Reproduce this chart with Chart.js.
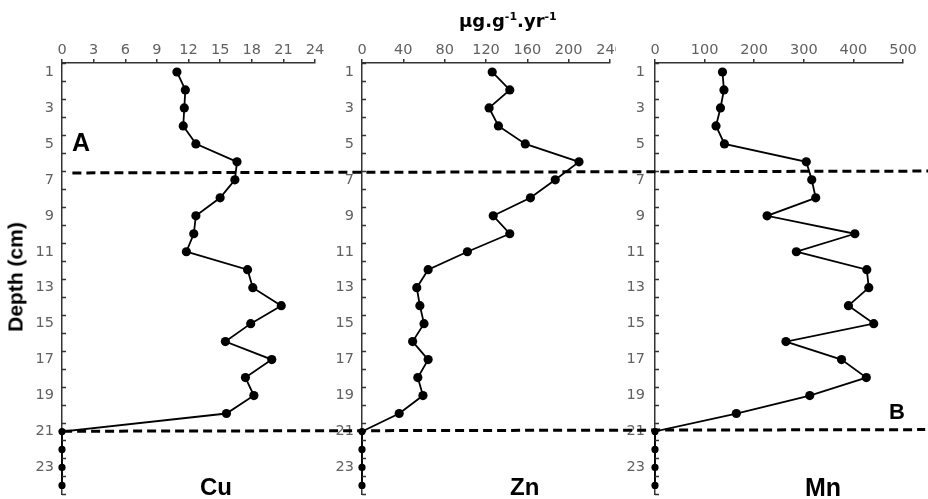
<!DOCTYPE html>
<html>
<head>
<meta charset="utf-8">
<script src="https://cdn.jsdelivr.net/npm/chart.js@4.4.1/dist/chart.umd.min.js"></script>
<style>
  body { margin: 0; background: #fff; width: 928px; height: 499px; overflow: hidden; position: relative;
         font-family: "Liberation Sans", Arial, sans-serif; }
  .panel { position: absolute; top: 0; height: 499px; background: #fff; }
  .txt { position: absolute; font-weight: bold; color: #000; line-height: 1; white-space: nowrap; }
  .txt sup { font-size: 11px; line-height: 0; vertical-align: 7px; }
  #overlay { position: absolute; left: 0; top: 0; pointer-events: none; }
</style>
</head>
<body>
<canvas id="cuChart" class="panel" style="left:0px" width="325" height="499"></canvas>
<canvas id="znChart" class="panel" style="left:325px" width="291" height="499"></canvas>
<canvas id="mnChart" class="panel" style="left:616px" width="312" height="499"></canvas>
<canvas id="overlay" width="928" height="499"></canvas>

<div class="txt" style="left:459px; top:12px; font-size:18px; font-family:'DejaVu Sans'">µg.g<sup>-1</sup>.yr<sup>-1</sup></div>
<div class="txt" style="left:15px; top:277px; font-size:21px; transform: translate(-50%,-50%) rotate(-90deg)">Depth (cm)</div>
<div class="txt" style="left:72px; top:130px; font-size:25px">A</div>
<div class="txt" style="left:889px; top:401px; font-size:22px">B</div>
<div class="txt" style="left:200px; top:475px; font-size:24px">Cu</div>
<div class="txt" style="left:510px; top:475px; font-size:24px">Zn</div>
<div class="txt" style="left:805px; top:475px; font-size:25px">Mn</div>

<script>
'use strict';

// ── Data ───────────────────────────────────────────────────
const depths = [1, 2, 3, 4, 5, 6, 7, 8, 9, 10, 11, 12, 13, 14, 15, 16, 17, 18, 19, 20, 21, 22, 23, 24];

const cuValues = [10.9, 11.7, 11.6, 11.5, 12.7, 16.6, 16.4, 15.0, 12.7, 12.5, 11.8, 17.6,
                  18.1, 20.8, 17.9, 15.5, 19.9, 17.4, 18.2, 15.6, 0, 0, 0, 0];
const znValues = [126, 143, 123, 132, 158, 210, 187, 163, 127, 143, 102, 64,
                  53, 56, 60, 49, 64, 54, 59, 36, 0, 0, 0, 0];
const mnValues = [136, 139, 132, 123, 140, 305, 316, 324, 226, 403, 285, 427,
                  431, 390, 441, 264, 376, 426, 312, 164, 0, 0, 0, 0];

const cuTicks = { max: 24, step: 3 };
const znTicks = { max: 240, step: 40 };
const mnTicks = { max: 500, step: 100 };

// sample boundaries (dashed lines): x as fraction of the figure width, y as depth
const boundaryA = [{ x: 0.078, y: 6.55 }, { x: 1.0, y: 6.45 }];
const boundaryB = [{ x: 0.068, y: 20.77 }, { x: 0.997, y: 20.68 }];

const depthMin = 0.5;
const depthMax = 24.5;

// ── Shared styling ─────────────────────────────────────────
Chart.defaults.font.family = '"DejaVu Sans", "Liberation Sans", Arial, sans-serif';
Chart.defaults.font.size = 14.5;
Chart.defaults.color = '#616161';

const AXIS = '#333';

// short tick marks drawn inward on the depth axis, between the labels
const innerTicks = {
  id: 'innerTicks',
  afterDraw(chart) {
    const y = chart.scales.y;
    if (!y || !y.options.display) return;
    const ctx = chart.ctx;
    ctx.save();
    ctx.strokeStyle = AXIS;
    ctx.lineWidth = 1.5;
    y.ticks.forEach(t => {
      if (Number.isInteger(t.value)) return;
      const py = Math.round(y.getPixelForValue(t.value)) + 0.5;
      ctx.beginPath();
      ctx.moveTo(y.right, py);
      ctx.lineTo(y.right + 4, py);
      ctx.stroke();
    });
    ctx.restore();
  }
};

function makePanel(canvasId, values, xt, axisWidth, padRight, labelPad) {
  const points = depths.map((d, i) => ({ x: values[i], y: d }));
  return new Chart(document.getElementById(canvasId), {
    type: 'line',
    data: {
      datasets: [{
        data: points,
        borderColor: '#000',
        backgroundColor: '#000',
        borderWidth: 1.8,
        pointRadius: ctx => (ctx.raw && ctx.raw.x === 0 ? 3.6 : 4.6),
        pointBorderWidth: 0,
        tension: 0,
        clip: false
      }]
    },
    options: {
      responsive: false,
      animation: false,
      layout: { padding: { top: 0, left: 0, bottom: 0, right: padRight } },
      plugins: { legend: { display: false }, tooltip: { enabled: false } },
      scales: {
        x: {
          type: 'linear',
          position: 'top',
          min: 0,
          max: xt.max,
          ticks: { stepSize: xt.step, padding: 0, autoSkip: false, maxRotation: 0 },
          grid: { drawOnChartArea: false, drawTicks: true, tickLength: 4, color: AXIS, lineWidth: 1.5 },
          border: { display: true, color: AXIS, width: 1.5 },
          afterFit: s => { s.height = 63; s.paddingLeft = 0; s.paddingRight = 0; }
        },
        y: {
          type: 'linear',
          reverse: true,
          min: depthMin,
          max: depthMax,
          ticks: {
            stepSize: 0.5,
            autoSkip: false,
            padding: labelPad,
            callback: v => (Number.isInteger(v) && v % 2 === 1 ? String(v) : '')
          },
          grid: { drawOnChartArea: false, drawTicks: false },
          border: { display: true, color: AXIS, width: 1.5 },
          afterFit: s => { s.width = axisWidth; s.paddingTop = 0; s.paddingBottom = 0; }
        }
      }
    },
    plugins: [innerTicks]
  });
}

makePanel('cuChart', cuValues, cuTicks, 62, 10, 8);
makePanel('znChart', znValues, znTicks, 37, 6, 8);
makePanel('mnChart', mnValues, mnTicks, 39, 25, 10);

// ── Overlay: dashed boundaries crossing all three panels ──
const dashed = {
  borderColor: '#000',
  borderWidth: 3,
  borderDash: [9, 5],
  pointRadius: 0,
  tension: 0
};

new Chart(document.getElementById('overlay'), {
  type: 'line',
  data: {
    datasets: [
      { ...dashed, data: boundaryA },
      { ...dashed, data: boundaryB }
    ]
  },
  options: {
    responsive: false,
    animation: false,
    layout: { padding: { top: 63, left: 0, right: 0, bottom: 0 } },
    plugins: { legend: { display: false }, tooltip: { enabled: false } },
    scales: {
      x: { type: 'linear', display: false, min: 0, max: 1 },
      y: { type: 'linear', display: false, reverse: true, min: depthMin, max: depthMax }
    }
  }
});
</script>
</body>
</html>
